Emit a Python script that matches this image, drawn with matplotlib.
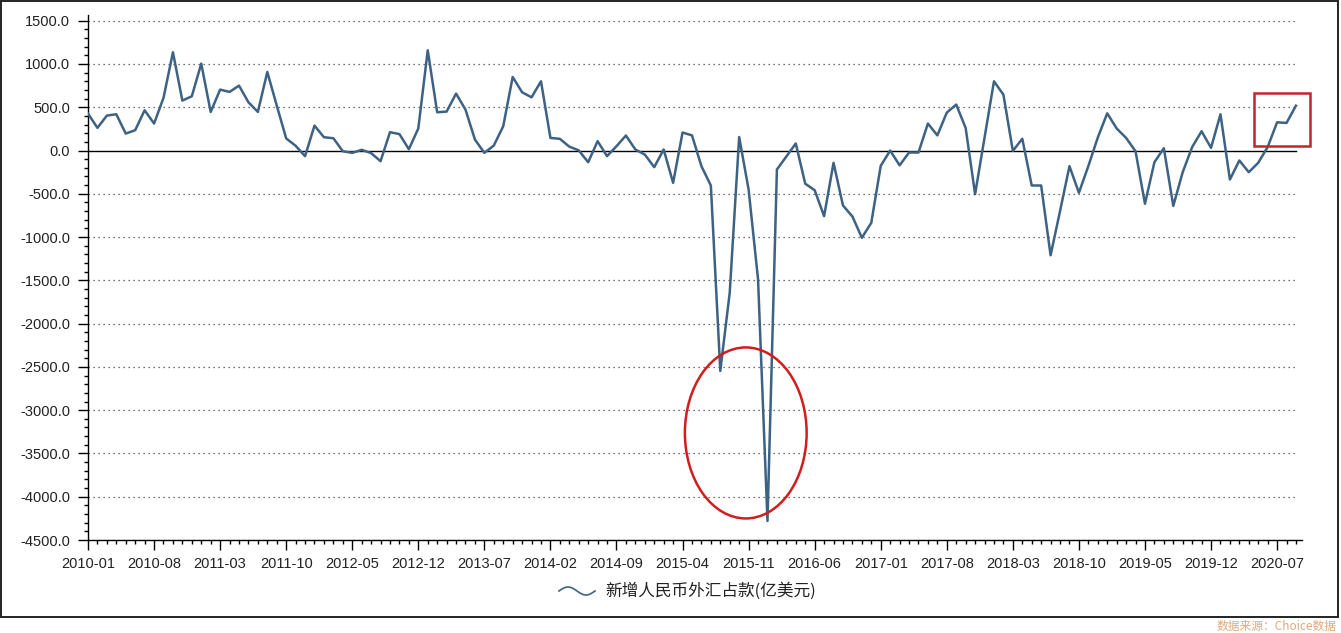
"""New RMB FX purchase position (monthly, 100 million USD), 2010-01 to 2020-09."""

import numpy as np
import matplotlib
matplotlib.use("Agg")
import matplotlib.pyplot as plt
from matplotlib.lines import Line2D
from matplotlib.patches import Ellipse, Rectangle

plt.rcParams["font.family"] = ["Liberation Sans", "Noto Sans CJK SC", "DejaVu Sans"]

START_YEAR, START_MONTH = 2010, 1
SERIES_NAME = "新增人民币外汇占款(亿美元)"
SOURCE_NOTE = "数据来源：Choice数据"

# monthly values
values = [
    427, 262, 404, 419, 196, 235, 465, 312, 608, 1135, 577, 627,
    1004, 446, 704, 677, 750, 558, 446, 908, 520, 140, 55, -65,
    288, 154, 142, -8, -27, 8, -30, -123, 212, 190, 15, 255,
    1158, 442, 450, 658, 473, 127, -27, 58, 281, 850, 673, 615,
    800, 146, 135, 45, 2, -135, 108, -65, 50, 173, 12, -46,
    -192, 12, -373, 208, 175, -181, -404, -2546, -1642, 156, -450, -1488,
    -4280, -219, -70, 81, -383, -458, -758, -142, -635, -762, -1008, -835,
    -177, 0, -171, -23, -23, 312, 175, 438, 531, 261, -504, 150,
    800, 646, -4, 136, -404, -404, -1210, -700, -181, -488, -180, 150,
    430, 255, 146, -8, -615, -135, 27, -640, -250, 40, 223, 31,
    419, -335, -115, -250, -142, 40, 326, 319, 518,
]

months = []
for k in range(len(values)):
    m = START_MONTH - 1 + k
    months.append(f"{START_YEAR + m // 12}-{m % 12 + 1:02d}")

y_ticks = list(range(1500, -5000, -500))


def main() -> None:
    fig = plt.figure(figsize=(13.41, 6.33), dpi=100)
    ax = fig.add_axes([88 / 1341, 93 / 633, 1214 / 1341, 525 / 633])

    x = np.arange(len(values))
    last = len(values) - 1

    # dotted grid + zero line, stopping at the last data point
    for t in y_ticks:
        if t == 0:
            continue
        ax.plot([0, last], [t, t], color="#444444", linewidth=0.9,
                linestyle=(0, (1, 3)), zorder=1)
    ax.plot([0, last], [0, 0], color="black", linewidth=1.0, zorder=2)

    ax.plot(x, values, color="#3d6283", linewidth=1.8, zorder=3)

    ax.set_xlim(0, 128.64)
    ax.set_ylim(-4500, 1566)

    ax.set_yticks(y_ticks)
    ax.set_yticklabels([f"{t:.1f}" for t in y_ticks])
    ax.set_yticks(np.arange(-4500, 1501, 100), minor=True)
    ax.set_xticks(x[::7])
    ax.set_xticklabels(months[::7])
    ax.set_xticks(x, minor=True)

    ax.tick_params(axis="both", which="major", length=7, width=1,
                   color="black", labelsize=10.5, labelcolor="#222222")
    ax.tick_params(axis="both", which="minor", length=3, width=1, color="black")
    ax.tick_params(axis="y", which="major", pad=6)
    ax.tick_params(axis="x", which="major", pad=5)

    for side in ("top", "right"):
        ax.spines[side].set_visible(False)
    for side in ("left", "bottom"):
        ax.spines[side].set_color("black")
        ax.spines[side].set_linewidth(1)

    # hand-drawn style highlights
    ax.add_patch(Ellipse((69.7, -3263), 12.9, 1976, fill=False,
                         edgecolor="#d01e1e", linewidth=1.8, zorder=4,
                         clip_on=False))
    ax.add_patch(Rectangle((123.6, 52), 5.9, 612, fill=False,
                           edgecolor="#c0262d", linewidth=1.8, zorder=4,
                           clip_on=False))

    # legend: wavy line icon + label
    wx = np.linspace(559, 595, 40)
    wy = 591 - 4 * np.sin((wx - 559) / 36 * 2 * np.pi)
    fig.add_artist(Line2D(wx / 1341, 1 - wy / 633, color="#3d6283",
                          linewidth=1.2, transform=fig.transFigure))
    fig.text(605 / 1341, 1 - 591 / 633, SERIES_NAME, fontsize=12,
             color="#222222", va="center", ha="left",
             family=["Noto Sans CJK SC", "DejaVu Sans"])

    # outer frame and source note
    fig.add_artist(Rectangle((1 / 1341, 16 / 633), 1337 / 1341, 616.5 / 633,
                             fill=False, edgecolor="#222222", linewidth=1.4,
                             transform=fig.transFigure))
    fig.text(1337 / 1341, 1 - 626 / 633, SOURCE_NOTE, fontsize=8.5,
             color="#e4a878", ha="right", va="center",
             family=["Noto Sans CJK SC", "DejaVu Sans"])

    fig.savefig("out.png", dpi=100)


if __name__ == "__main__":
    main()
